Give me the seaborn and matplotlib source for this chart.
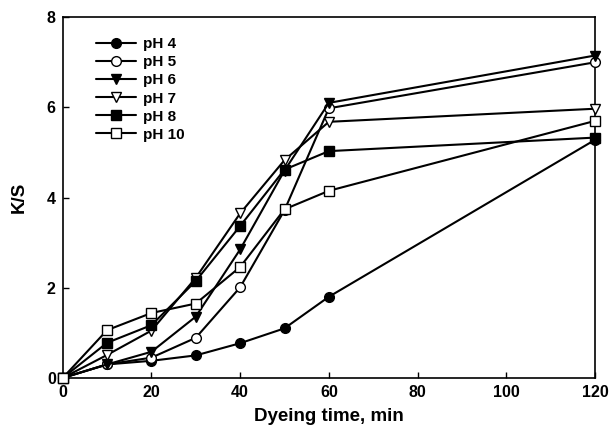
import pandas as pd
import seaborn as sns
import matplotlib.pyplot as plt

# dyeing time (min) and K/S values
time = [0, 10, 20, 30, 40, 50, 60, 120]
ph4 = [0, 0.30, 0.38, 0.50, 0.77, 1.10, 1.80, 5.28]
ph5 = [0, 0.30, 0.45, 0.89, 2.01, 3.72, 5.98, 7.00]
ph6 = [0, 0.30, 0.58, 1.36, 2.85, 4.60, 6.10, 7.15]
ph7 = [0, 0.51, 1.05, 2.22, 3.65, 4.83, 5.68, 5.97]
ph8 = [0, 0.78, 1.17, 2.15, 3.37, 4.62, 5.03, 5.33]
ph10 = [0, 1.06, 1.44, 1.65, 2.46, 3.74, 4.15, 5.70]

labels = ["pH 4", "pH 5", "pH 6", "pH 7", "pH 8", "pH 10"]
series = [ph4, ph5, ph6, ph7, ph8, ph10]
markers = ["o", "o", "v", "v", "s", "s"]
filled = [True, False, True, False, True, False]

sns.set_style("ticks")
plt.rcParams['font.family'] = ['Liberation Sans', 'DejaVu Sans']
plt.rcParams['font.weight'] = 'bold'
plt.rcParams['text.color'] = 'black'
plt.rcParams['axes.labelcolor'] = 'black'
plt.rcParams['xtick.color'] = 'black'
plt.rcParams['ytick.color'] = 'black'

fig = plt.figure(figsize=(6.09, 4.41), dpi=100)
ax = fig.add_axes([0.103, 0.143, 0.874, 0.818])

for lab, vals, mk, fill in zip(labels, series, markers, filled):
    df = pd.DataFrame({"time": time, "ks": vals})
    sns.lineplot(data=df, x="time", y="ks", ax=ax, label=lab,
                 color="black", linewidth=1.5, marker=mk, markersize=7,
                 markerfacecolor="black" if fill else "white",
                 markeredgecolor="black", markeredgewidth=1.0,
                 clip_on=False, zorder=3)

ax.set_xlim(0, 120)
ax.set_ylim(0, 8)
ax.set_xticks(range(0, 121, 20))
ax.set_yticks(range(0, 9, 2))
ax.tick_params(direction="in", length=4, width=1, labelsize=11.5, pad=5)
for lbl in ax.get_xticklabels() + ax.get_yticklabels():
    lbl.set_fontweight("bold")
for sp in ax.spines.values():
    sp.set_visible(True)
    sp.set_linewidth(1.2)
    sp.set_color("black")

ax.set_xlabel("Dyeing time, min", fontsize=13.5, fontweight="bold", labelpad=6)
ax.set_ylabel("K/S", fontsize=13.5, fontweight="bold", labelpad=14)

leg = ax.legend(loc="upper left", bbox_to_anchor=(0.045, 0.97), frameon=False,
                fontsize=11, handlelength=2.6, handletextpad=0.5,
                labelspacing=0.27, borderaxespad=0.2)
for t in leg.get_texts():
    t.set_fontweight("bold")

fig.savefig("out.png", dpi=100)
